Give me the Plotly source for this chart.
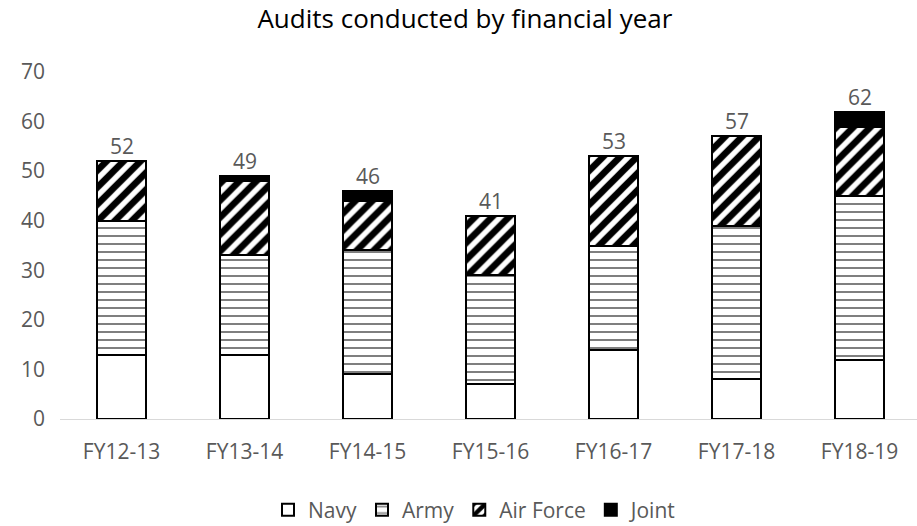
import plotly.graph_objects as go

years = ["FY12-13", "FY13-14", "FY14-15", "FY15-16", "FY16-17", "FY17-18", "FY18-19"]
navy = [13, 13, 9, 7, 14, 8, 12]
army = [27, 20, 25, 22, 21, 31, 33]
air_force = [12, 15, 10, 12, 18, 18, 14]
joint = [0, 1, 2, 0, 0, 0, 3]
totals = [n + a + f + j for n, a, f, j in zip(navy, army, air_force, joint)]

FONT = "Open Sans"
GREY = "#595959"

fig = go.Figure()
line = dict(color="black", width=2)
fig.add_trace(go.Bar(name="Navy", x=years, y=navy,
                     marker=dict(color="white", line=line)))
fig.add_trace(go.Bar(name="Army", x=years, y=army,
                     marker=dict(color="white", line=line,
                                 pattern=dict(shape="-", fgcolor="black", bgcolor="white",
                                              size=8, solidity=0.25))))
fig.add_trace(go.Bar(name="Air Force", x=years, y=air_force,
                     marker=dict(color="white", line=line,
                                 pattern=dict(shape="/", fgcolor="black", bgcolor="white",
                                              fgopacity=1, size=12, solidity=0.55))))
fig.add_trace(go.Bar(name="Joint", x=years, y=joint,
                     marker=dict(color="black", line=line)))

# total labels above each stack
for yr, t in zip(years, totals):
    fig.add_annotation(x=yr, y=t, text=str(t), showarrow=False,
                       yanchor="bottom", yshift=-1,
                       font=dict(family=FONT, size=21, color=GREY))

fig.update_layout(
    width=917, height=526,
    barmode="stack", bargap=0.6,
    plot_bgcolor="white", paper_bgcolor="white",
    margin=dict(l=60, r=0, t=72, b=107, autoexpand=False),
    title=dict(text="Audits conducted by financial year", x=0.507, xanchor="center",
               xref="container", y=0.965, yanchor="middle",
               font=dict(family=FONT, size=26, color="black")),
    font=dict(family=FONT, color=GREY),
    legend=dict(orientation="h", x=0.518, xanchor="center", xref="container",
                y=0.03, yanchor="middle", yref="container",
                font=dict(family=FONT, size=21, color=GREY), traceorder="normal",
                itemwidth=30),
    showlegend=True,
)
fig.update_xaxes(range=[-0.5, 6.467], showline=True, linecolor="#d9d9d9", linewidth=1,
                 ticks="", tickfont=dict(family=FONT, size=21, color=GREY), showgrid=False,
                 ticklabelstandoff=14, automargin=False)
fig.update_yaxes(range=[0, 70], dtick=10, showgrid=False, zeroline=False, showline=False,
                 ticks="", tickfont=dict(family=FONT, size=21, color=GREY),
                 ticklabelstandoff=14, automargin=False)

fig.write_html("out.html")
